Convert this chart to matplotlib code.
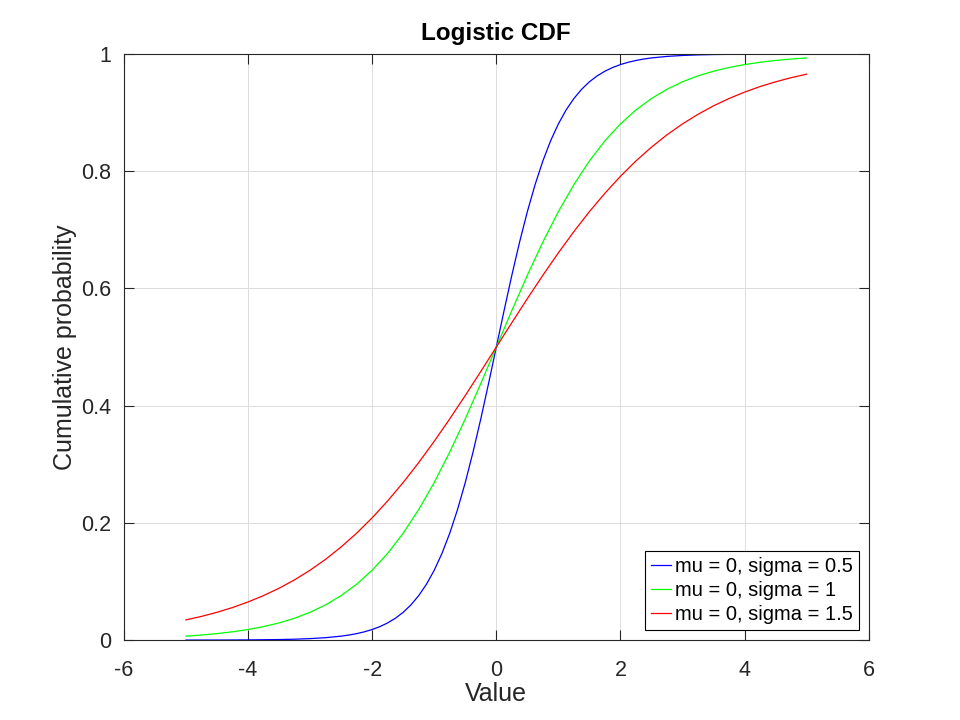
import matplotlib
matplotlib.use('Agg')
import matplotlib.pyplot as plt

# values (step 0.25 from -5 to 5)
x_vals = [-5.0, -4.75, -4.5, -4.25, -4.0, -3.75, -3.5, -3.25, -3.0, -2.75,
          -2.5, -2.25, -2.0, -1.75, -1.5, -1.25, -1.0, -0.75, -0.5, -0.25,
          0.0, 0.25, 0.5, 0.75, 1.0, 1.25, 1.5, 1.75, 2.0, 2.25,
          2.5, 2.75, 3.0, 3.25, 3.5, 3.75, 4.0, 4.25, 4.5, 4.75, 5.0]

# blue curve is steep, so it was read more finely in the middle
x_blue = [-5.0, -4.75, -4.5, -4.25, -4.0, -3.75, -3.5, -3.25, -3.0, -2.75,
          -2.5, -2.375, -2.25, -2.125, -2.0, -1.875, -1.75, -1.625, -1.5, -1.375,
          -1.25, -1.125, -1.0, -0.875, -0.75, -0.625, -0.5, -0.375, -0.25, -0.125,
          0.0,
          0.125, 0.25, 0.375, 0.5, 0.625, 0.75, 0.875, 1.0, 1.125, 1.25,
          1.375, 1.5, 1.625, 1.75, 1.875, 2.0, 2.125, 2.25, 2.375, 2.5,
          2.75, 3.0, 3.25, 3.5, 3.75, 4.0, 4.25, 4.5, 4.75, 5.0]

cdf_s05 = [0.0000, 0.0001, 0.0001, 0.0002, 0.0003, 0.0006, 0.0009, 0.0015, 0.0025, 0.0041,
           0.0067, 0.0086, 0.0110, 0.0141, 0.0180, 0.0230, 0.0293, 0.0373, 0.0474, 0.0601,
           0.0759, 0.0953, 0.1192, 0.1480, 0.1824, 0.2227, 0.2689, 0.3208, 0.3775, 0.4378,
           0.5000,
           0.5622, 0.6225, 0.6792, 0.7311, 0.7773, 0.8176, 0.8520, 0.8808, 0.9047, 0.9241,
           0.9399, 0.9526, 0.9627, 0.9707, 0.9770, 0.9820, 0.9859, 0.9890, 0.9914, 0.9933,
           0.9959, 0.9975, 0.9985, 0.9991, 0.9994, 0.9997, 0.9998, 0.9999, 0.9999, 1.0000]

cdf_s1 = [0.0067, 0.0086, 0.0110, 0.0141, 0.0180, 0.0230, 0.0293, 0.0373, 0.0474, 0.0601,
          0.0759, 0.0953, 0.1192, 0.1480, 0.1824, 0.2227, 0.2689, 0.3208, 0.3775, 0.4378,
          0.5000,
          0.5622, 0.6225, 0.6792, 0.7311, 0.7773, 0.8176, 0.8520, 0.8808, 0.9047, 0.9241,
          0.9399, 0.9526, 0.9627, 0.9707, 0.9770, 0.9820, 0.9859, 0.9890, 0.9914, 0.9933]

cdf_s15 = [0.0344, 0.0404, 0.0474, 0.0555, 0.0650, 0.0759, 0.0884, 0.1028, 0.1192, 0.1378,
           0.1589, 0.1824, 0.2086, 0.2375, 0.2689, 0.3029, 0.3392, 0.3775, 0.4174, 0.4584,
           0.5000,
           0.5416, 0.5826, 0.6225, 0.6608, 0.6971, 0.7311, 0.7625, 0.7914, 0.8176, 0.8411,
           0.8622, 0.8808, 0.8972, 0.9116, 0.9241, 0.9350, 0.9445, 0.9526, 0.9596, 0.9656]

labels = ['mu = 0, sigma = 0.5', 'mu = 0, sigma = 1', 'mu = 0, sigma = 1.5']
x_ticks = [-6, -4, -2, 0, 2, 4, 6]
y_ticks = [0, 0.2, 0.4, 0.6, 0.8, 1]
y_ticklabels = ['0', '0.2', '0.4', '0.6', '0.8', '1']

plt.rcParams['font.family'] = ['Liberation Sans', 'DejaVu Sans']
txt = '#262626'

fig = plt.figure(figsize=(9.6, 7.2), dpi=100)
ax = fig.add_axes([0.129, 0.111, 0.776, 0.814])

ax.plot(x_blue, cdf_s05, color=(0, 0, 1), lw=0.9, label=labels[0])
ax.plot(x_vals, cdf_s1, color=(0, 1, 0), lw=0.9, label=labels[1])
ax.plot(x_vals, cdf_s15, color=(1, 0, 0), lw=0.9, label=labels[2])

ax.set_xlim(-6, 6)
ax.set_ylim(0, 1)
ax.set_xticks(x_ticks)
ax.set_xticklabels([str(t) for t in x_ticks])
ax.set_yticks(y_ticks)
ax.set_yticklabels(y_ticklabels)
ax.grid(True, color='#dcdcdc', lw=0.7)
ax.set_axisbelow(True)
ax.tick_params(direction='in', length=7, width=0.8, top=True, right=True,
               labelsize=15.5, colors=txt, pad=9)
ax.tick_params(axis='x', pad=14)
for s in ax.spines.values():
    s.set_color(txt)
    s.set_linewidth(0.8)

ax.set_xlabel('Value', fontsize=18, color=txt, labelpad=1)
ax.set_ylabel('Cumulative probability', fontsize=18, color=txt, labelpad=3)
ax.set_title('Logistic CDF', fontsize=17.5, fontweight='bold', color='black', pad=10)

leg = ax.legend(loc='lower right', fontsize=14.5, frameon=True, fancybox=False,
                edgecolor='black', framealpha=1, handlelength=1.0, handletextpad=0.2,
                borderpad=0.3, labelspacing=0.25, borderaxespad=0.5)
leg.get_frame().set_linewidth(0.8)

fig.savefig('out.png', dpi=100)
